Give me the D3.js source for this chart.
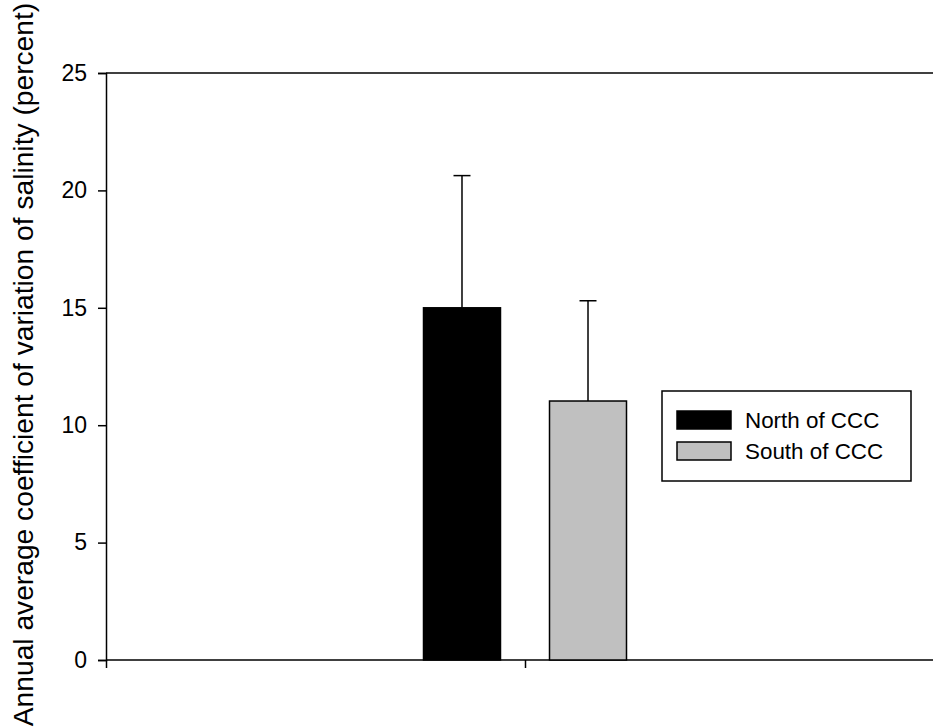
<!DOCTYPE html>
<html>
<head>
<meta charset="utf-8">
<script src="https://cdn.jsdelivr.net/npm/d3@7"></script>
<style>
  body { margin: 0; background: #fff; }
  svg { display: block; font-family: "Liberation Sans", Arial, sans-serif; }
</style>
</head>
<body>
<svg width="933" height="728"></svg>
<script>
var categories = [""];
var series = ["North of CCC", "South of CCC"];
var means = [15.0, 11.03];
var errors = [5.63, 4.27];
var colors = ["#000000", "#c0c0c0"];
var yTicks = [0, 5, 10, 15, 20, 25];

// plot box (right edge runs past the window)
var plot = { left: 106, right: 944, top: 73, bottom: 660 };

var svg = d3.select("svg");

var x = d3.scaleBand().domain(categories).range([plot.left, plot.right]).padding(0);
var y = d3.scaleLinear().domain([0, 25]).range([plot.bottom, plot.top]);

var cx = x(categories[0]) + x.bandwidth() / 2;
var xs = d3.scaleBand().domain(series).range([cx - 101.5, cx + 101.5])
    .paddingInner(0.389).paddingOuter(0);

// top frame line
svg.append("line")
    .attr("x1", plot.left).attr("x2", plot.right)
    .attr("y1", y(25)).attr("y2", y(25))
    .attr("stroke", "#000").attr("stroke-width", 1.5);

// y axis
var yAxis = d3.axisLeft(y).tickValues(yTicks).tickSize(8).tickPadding(11)
    .tickFormat(d3.format("d"));
var gy = svg.append("g").attr("transform", "translate(" + plot.left + ",0)").call(yAxis);
gy.select(".domain").attr("stroke-width", 1.5);
gy.selectAll(".tick line").attr("stroke-width", 1.5);
gy.selectAll("text").attr("font-size", 23).attr("font-family", "Liberation Sans, Arial, sans-serif");

// x axis: ticks at category edges and centre
var xl = d3.scaleLinear().domain([0, 2]).range([plot.left, plot.right]);
var xAxis = d3.axisBottom(xl).tickValues([0, 1, 2]).tickSize(8).tickFormat("");
var gx = svg.append("g").attr("transform", "translate(0," + plot.bottom + ")").call(xAxis);
gx.select(".domain").attr("stroke-width", 1.5).attr("d", "M" + plot.left + ",0H" + plot.right);
gx.selectAll(".tick line").attr("stroke-width", 1.5);

// error bars (upper only)
var eb = svg.append("g");
series.forEach(function (s, i) {
    var bx = xs(s) + xs.bandwidth() / 2;
    eb.append("line")
        .attr("x1", bx).attr("x2", bx)
        .attr("y1", y(means[i])).attr("y2", y(means[i] + errors[i]))
        .attr("stroke", "#000").attr("stroke-width", 1.5);
    eb.append("line")
        .attr("x1", bx - 8.5).attr("x2", bx + 8.5)
        .attr("y1", y(means[i] + errors[i])).attr("y2", y(means[i] + errors[i]))
        .attr("stroke", "#000").attr("stroke-width", 1.5);
});

// bars
svg.append("g")
    .selectAll("rect")
    .data(series)
    .enter()
    .append("rect")
    .attr("x", function (d) { return xs(d); })
    .attr("y", function (d, i) { return y(means[i]); })
    .attr("width", xs.bandwidth())
    .attr("height", function (d, i) { return y(0) - y(means[i]); })
    .attr("fill", function (d, i) { return colors[i]; })
    .attr("stroke", "#000")
    .attr("stroke-width", 1.5);

// y title
svg.append("text")
    .attr("transform", "translate(33," + ((plot.top + plot.bottom) / 2 - 2) + ") rotate(-90)")
    .attr("text-anchor", "middle")
    .attr("font-size", 28.2)
    .text("Annual average coefficient of variation of salinity (percent)");

// legend
var lg = svg.append("g").attr("transform", "translate(662,391)");
lg.append("rect")
    .attr("width", 249).attr("height", 90)
    .attr("fill", "#fff").attr("stroke", "#000").attr("stroke-width", 1.5);
series.forEach(function (s, i) {
    var row = lg.append("g").attr("transform", "translate(15," + (20 + i * 31) + ")");
    row.append("rect")
        .attr("width", 54).attr("height", 18)
        .attr("fill", colors[i]).attr("stroke", "#000").attr("stroke-width", 1.5);
    row.append("text")
        .attr("x", 68).attr("y", 9)
        .attr("dy", "0.36em")
        .attr("font-size", 22.4)
        .text(s);
});
</script>
</body>
</html>
